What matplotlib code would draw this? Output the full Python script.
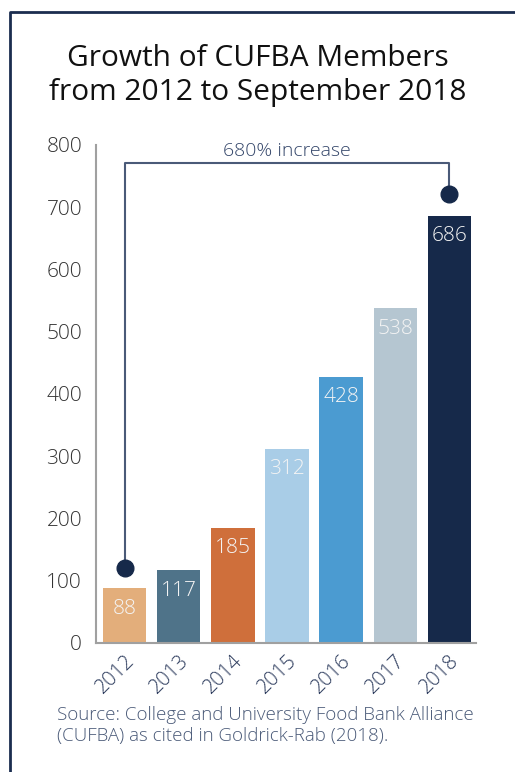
import matplotlib
matplotlib.use("Agg")
import matplotlib.pyplot as plt
from matplotlib.lines import Line2D

plt.rcParams['font.family'] = ['Open Sans', 'DejaVu Sans']
plt.rcParams['font.weight'] = 'light'

years = ['2012', '2013', '2014', '2015', '2016', '2017', '2018']
members = [88, 117, 185, 312, 428, 538, 686]
colors = ['#e3ae7b', '#4f7389', '#cf6f3b', '#a9cde7', '#4b9bd1', '#b5c6d1', '#16294a']
navy = '#1b2d4f'

fig = plt.figure(figsize=(5.15, 7.72), dpi=100)
ax = fig.add_axes([0.1864, 0.1671, 0.924 - 0.1864, 0.8122 - 0.1671])

x = range(len(years))
ax.bar(x, members, width=0.8, color=colors)
for i, v in enumerate(members):
    ax.text(i, v - 33, str(v), ha='center', va='center', color='#f4f4f4', fontsize=15)

ax.set_xlim(-0.53, 6.49)
ax.set_ylim(0, 800)
ax.set_yticks(range(0, 801, 100))
ax.set_xticks(list(x))
ax.set_xticklabels(years, rotation=45, ha='right', rotation_mode='anchor', color='#2b3a5c', fontsize=14.5)
ax.tick_params(axis='y', labelsize=15, labelcolor='#333333', length=0, pad=10)
ax.tick_params(axis='x', length=0, pad=6)
for s in ['top', 'right']:
    ax.spines[s].set_visible(False)
ax.spines['left'].set_color('#a0a0a0')
ax.spines['bottom'].set_color('#a0a0a0')
ax.spines['left'].set_linewidth(1.5)
ax.spines['bottom'].set_linewidth(1.5)

# bracket annotation
ax.plot([0, 0, 6, 6], [120, 771, 771, 721], color='#4a5a78', lw=1.5, clip_on=False)
ax.plot([0, 6], [120, 721], 'o', color='#16294a', ms=12, clip_on=False)
ax.text(3, 791, '680% increase', ha='center', va='center', color='#34466a', fontsize=14)

fig.text(0.5, 0.902, 'Growth of CUFBA Members\nfrom 2012 to September 2018',
         ha='center', va='center', fontsize=21.5, color='#111111', linespacing=1.2,
         fontweight='normal')
fig.text(0.11, 0.06, 'Source: College and University Food Bank Alliance\n(CUFBA) as cited in Goldrick-Rab (2018).',
         ha='left', va='center', fontsize=13.5, color='#4a5a78', linespacing=1.2)

# frame lines (left and top)
fig.add_artist(Line2D([0.02, 0.02, 1.0], [0.0, 0.984, 0.984], transform=fig.transFigure, color=navy, lw=2))

fig.savefig('out.png', dpi=100)
